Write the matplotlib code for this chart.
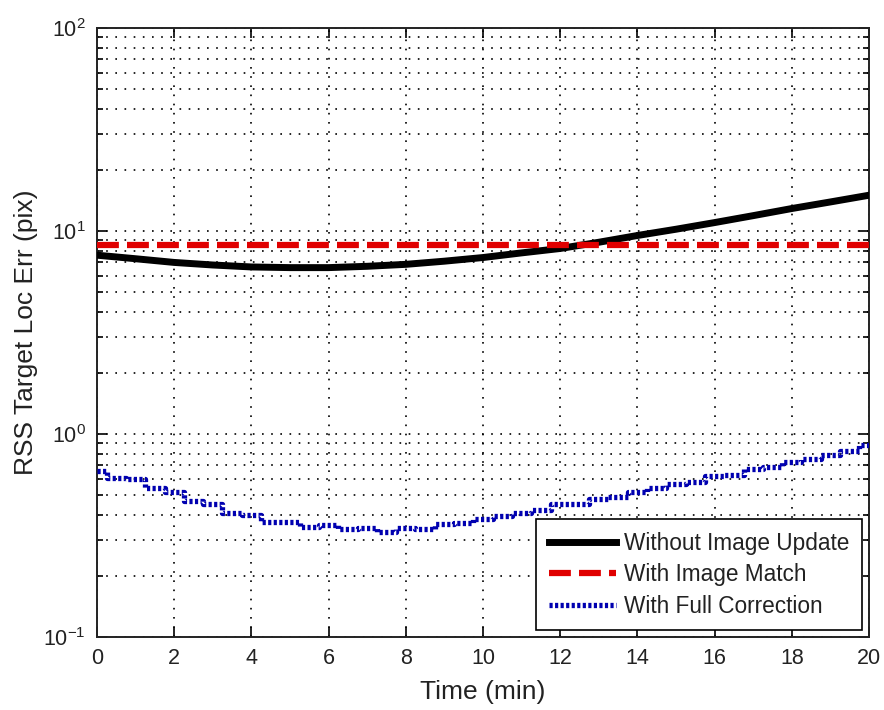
import numpy as np
import matplotlib
matplotlib.use("Agg")
import matplotlib.pyplot as plt
from matplotlib.ticker import LogLocator, NullFormatter

plt.rcParams['font.family'] = ['Liberation Sans', 'DejaVu Sans']
plt.rcParams['mathtext.default'] = 'regular'
plt.rcParams['axes.unicode_minus'] = False

# Time axis (minutes)
t_black = [0, 1, 2, 3, 4, 5, 6, 7, 8, 9, 10, 11, 12, 13, 14, 15, 16, 17, 18, 19, 20]
err_no_update = [7.6, 7.3, 7.0, 6.8, 6.65, 6.6, 6.6, 6.7, 6.85, 7.1, 7.4,
                 7.8, 8.2, 8.8, 9.5, 10.2, 11.0, 11.9, 12.9, 13.9, 15.0]

t_red = [0, 20]
err_image_match = [8.5, 8.5]

t_blue = [0, 0.5, 1, 1.5, 2, 2.5, 3, 3.5, 4, 4.5, 5, 5.5, 6, 6.5, 7, 7.5, 8,
          8.5, 9, 9.5, 10, 10.5, 11, 11.5, 12, 12.5, 13, 13.5, 14, 14.5, 15,
          15.5, 16, 16.5, 17, 17.5, 18, 18.5, 19, 19.5, 20]
err_full_corr = [0.66, 0.61, 0.60, 0.54, 0.52, 0.47, 0.45, 0.41, 0.40, 0.37,
                 0.37, 0.35, 0.355, 0.34, 0.345, 0.33, 0.345, 0.34, 0.36, 0.365,
                 0.38, 0.395, 0.41, 0.42, 0.45, 0.45, 0.48, 0.49, 0.52, 0.54,
                 0.57, 0.58, 0.62, 0.63, 0.67, 0.69, 0.73, 0.75, 0.79, 0.82, 0.88]

labels = ['Without Image Update', 'With Image Match', 'With Full Correction']
x_ticks = list(range(0, 21, 2))

fig = plt.figure(figsize=(8.84, 7.10), dpi=100)
ax = fig.add_axes([0.1097, 0.1028, 0.8733, 0.8578])

ax.plot(t_black, err_no_update, color='black', lw=5.0, label=labels[0], zorder=3)
ax.plot(t_red, err_image_match, color='#e00000', lw=4.5, ls=(0, (3.5, 1.3)),
        label=labels[1], zorder=4)
ax.plot(t_blue, err_full_corr, color='#0000b0', lw=3.8, ls=(0, (0.6, 0.45)),
        drawstyle='steps-mid', label=labels[2], zorder=3)

ax.set_yscale('log')
ax.set_ylim(0.1, 100)
ax.set_xlim(0, 20)
ax.set_xticks(x_ticks)
ax.yaxis.set_major_locator(LogLocator(base=10, numticks=10))
ax.yaxis.set_minor_locator(LogLocator(base=10, subs=np.arange(2, 10), numticks=100))
ax.yaxis.set_minor_formatter(NullFormatter())

grid_style = dict(color='black', linestyle=(0, (1, 4.5)), linewidth=1.2)
ax.grid(True, which='major', axis='both', **grid_style)
ax.grid(True, which='minor', axis='y', **grid_style)
ax.set_axisbelow(True)

ax.tick_params(which='both', direction='in', top=True, right=True,
               labelsize=15.5, width=1.2, colors='black', labelcolor='#222222')
ax.tick_params(which='major', length=7, pad=8)
ax.tick_params(which='minor', length=4)
for s in ax.spines.values():
    s.set_linewidth(1.4)
    s.set_color('#222222')

ax.set_xlabel('Time (min)', fontsize=19, labelpad=8, color='#222222')
ax.set_ylabel('RSS Target Loc Err (pix)', fontsize=19, labelpad=4, color='#222222')

leg = ax.legend(loc='lower right', fontsize=16.3, handlelength=3.0,
                handletextpad=0.35, labelspacing=0.38, borderpad=0.55,
                borderaxespad=0.3, fancybox=False, framealpha=1,
                edgecolor='black')
leg.get_frame().set_linewidth(1.2)
for txt in leg.get_texts():
    txt.set_color('#222222')

fig.savefig('out.png', dpi=100)
